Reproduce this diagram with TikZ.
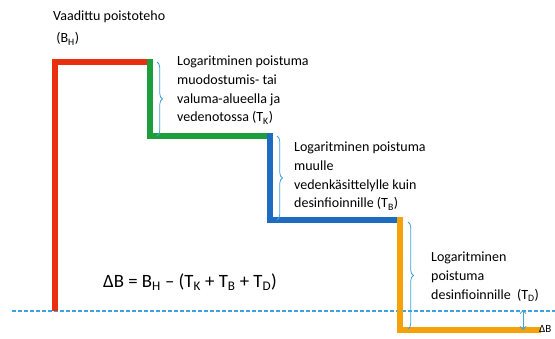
\documentclass[tikz,border=0pt]{standalone}
\usepackage{fontspec}
\setmainfont{Carlito}
\usetikzlibrary{decorations.pathreplacing,arrows.meta}
\definecolor{stepred}{HTML}{E83010}
\definecolor{stepgreen}{HTML}{1C9E3C}
\definecolor{stepblue}{HTML}{1E6CC0}
\definecolor{steporange}{HTML}{F5A20A}
\definecolor{lightblue}{HTML}{3FA2DE}
\begin{document}
\begin{tikzpicture}[x=1pt,y=-1pt,
  stair/.style={line width=5.5pt,line join=miter},
  bracket/.style={draw=lightblue,line width=0.8pt,decorate,decoration={brace,amplitude=5.5pt}},
  label/.style={font=\fontsize{14}{18.7}\selectfont,align=left,anchor=north west,inner sep=0pt}]
\useasboundingbox (0,0) rectangle (555,338);
% corners of the staircase
\coordinate (r0) at (55,311);
\coordinate (c1) at (55,62);
\coordinate (c2) at (150,62);
\coordinate (c3) at (150,136);
\coordinate (c4) at (270,136);
\coordinate (c5) at (270,220);
\coordinate (c6) at (400,220);
\coordinate (c7) at (400,330);
\coordinate (c8) at (538,330);
% reference level
\coordinate (d0) at (12,311);
\coordinate (d1) at (555,311);
\draw[lightblue,line width=1.3pt,dash pattern=on 3.5pt off 2.5pt] (d0) -- (d1);
% staircase
\draw[stair,stepred] (r0) -- (c1) -- (c2);
\draw[stair,stepgreen,line cap=rect] (c2) -- (c3) -- (c4);
\draw[stair,stepblue,line cap=rect] (c4) -- (c5) -- (c6);
\draw[stair,steporange,line cap=rect] (c6) -- (c7) -- (c8);
% braces
\coordinate (b1a) at (157,62);
\coordinate (b1b) at (157,136);
\coordinate (b2a) at (277,136);
\coordinate (b2b) at (277,220);
\coordinate (b3a) at (408,222);
\coordinate (b3b) at (408,329);
\draw[bracket] (b1a) -- (b1b);
\draw[bracket] (b2a) -- (b2b);
\draw[bracket] (b3a) -- (b3b);
% remaining difference
\coordinate (e0) at (523,310);
\coordinate (e1) at (523,330);
\draw[lightblue,line width=0.8pt,{Straight Barb[length=3pt]}-{Straight Barb[length=3pt]}] (e0) -- (e1);
% texts
\node[label,font=\fontsize{14}{22}\selectfont] (bh) at (53,11) {Vaadittu poistoteho\\\ (B\textsubscript{H})};
\node[label] (tk) at (177,56) {Logaritminen poistuma\\muodostumis- tai\\valuma-alueella ja\\vedenotossa (T\textsubscript{K})};
\node[label] (tb) at (294,142) {Logaritminen poistuma\\muulle\\vedenkäsittelylle kuin\\desinfioinnille (T\textsubscript{B})};
\node[label] (td) at (431,252) {Logaritminen\\poistuma\\desinfioinnille\ \ (T\textsubscript{D})};
\node[label,font=\fontsize{18.8}{22}\selectfont] (eq) at (103,274) {ΔB = B\textsubscript{H} – (T\textsubscript{K} + T\textsubscript{B} + T\textsubscript{D})};
\node[label,font=\fontsize{11}{13}\selectfont] (db) at (539,325) {ΔB};
\end{tikzpicture}
\end{document}
